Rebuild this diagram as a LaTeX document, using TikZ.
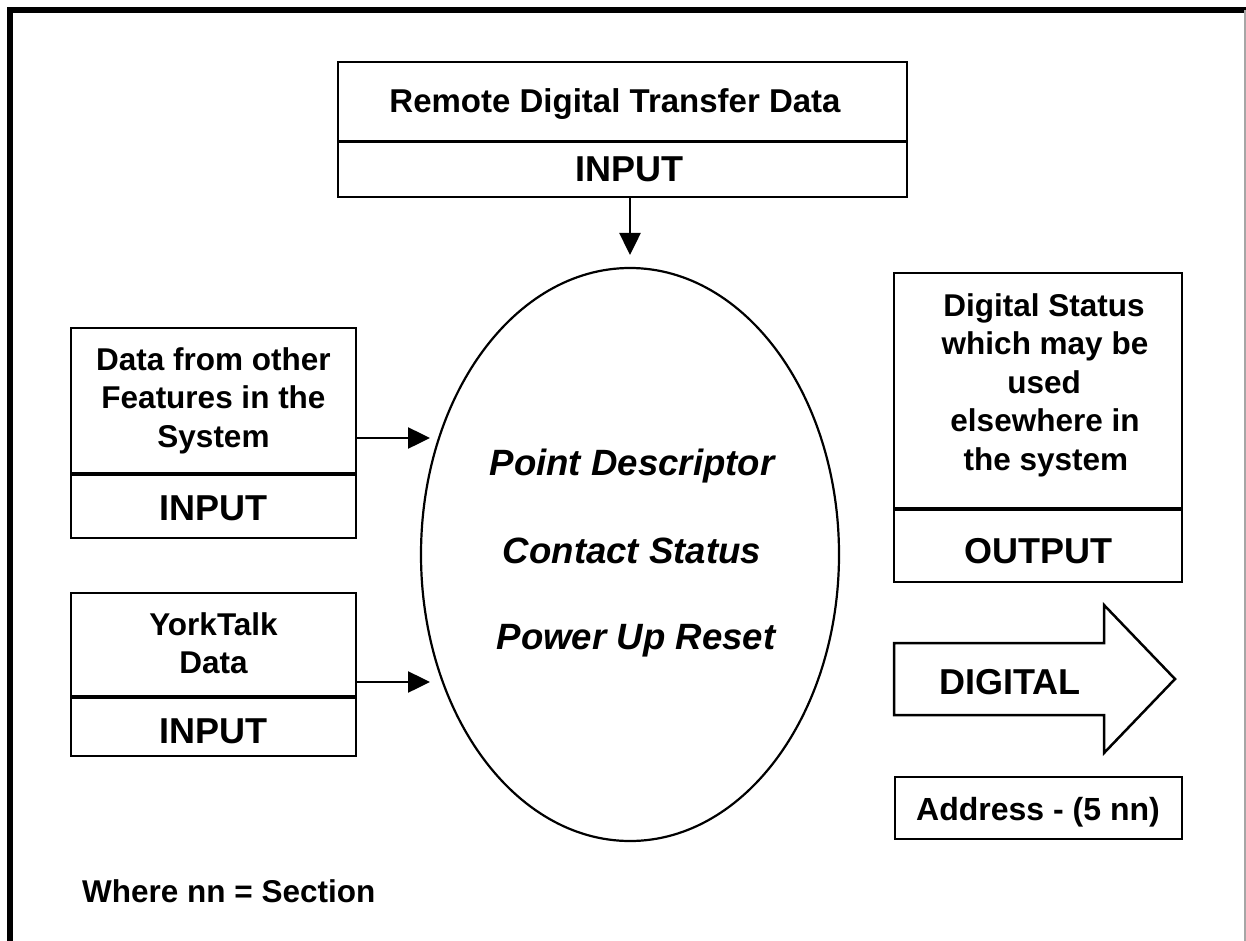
\documentclass[tikz,border=0pt]{standalone}
\usepackage{fontspec}
\setmainfont{Liberation Sans}
\usetikzlibrary{shapes.geometric,arrows.meta}
\begin{document}
\begin{tikzpicture}[x=1pt,y=-1pt,
  part/.style={draw,line width=2pt,inner sep=0pt},
  divider/.style={line width=3pt},
  arr/.style={line width=2.5pt,-{Triangle[length=22pt,width=21pt]}},
  txt/.style={inner sep=0pt,anchor=base,font=\fontsize{31.5}{38.5}\selectfont\bfseries},
  tag/.style={inner sep=0pt,anchor=base,font=\fontsize{36}{40}\selectfont\bfseries},
  core/.style={inner sep=0pt,anchor=base,font=\fontsize{36.6}{40}\selectfont\bfseries\itshape}]
\useasboundingbox (0,0) rectangle (1246,941);

% outer frame (open at the bottom)
\draw[line width=6pt] (10,941) -- (10,10) -- (1246,10);
\draw[gray!70,line width=2pt] (1245,10) -- (1245,941);

% remote transfer input
\node[part,minimum width=569pt,minimum height=79pt] (rtU) at (622.5,101.5) {};
\node[part,minimum width=569pt,minimum height=56pt] (rtL) at (622.5,169) {};
\draw[divider] (rtU.south west) -- (rtU.south east);
\node[txt,font=\fontsize{33}{38}\selectfont\bfseries] (rtT) at (615,113) {Remote Digital Transfer Data};
\node[tag] (rtI) at (629,182) {INPUT};

% central point descriptor
\node[ellipse,draw,line width=2.2pt,minimum width=418pt,minimum height=573pt,inner sep=0pt] (pd) at (630,554.5) {};
\node[core] (c1) at (632,475) {Point Descriptor};
\node[core] (c2) at (632,563) {Contact Status};
\node[core] (c3) at (636,649) {Power Up Reset};

% other features input
\node[part,minimum width=285pt,minimum height=145pt] (ofU) at (213.5,400.5) {};
\node[part,minimum width=285pt,minimum height=65pt] (ofL) at (213.5,505.5) {};
\draw[divider] (ofU.south west) -- (ofU.south east);
\node[txt] (of1) at (213.5,370) {Data from other};
\node[txt] (of2) at (213.5,408.5) {Features in the};
\node[txt] (of3) at (213.5,447) {System};
\node[tag] (ofI) at (213.5,520) {INPUT};

% YorkTalk input
\node[part,minimum width=285pt,minimum height=103pt] (ytU) at (213.5,644.5) {};
\node[part,minimum width=285pt,minimum height=60pt] (ytL) at (213.5,726) {};
\draw[divider] (ytU.south west) -- (ytU.south east);
\node[txt] (yt1) at (213.5,635) {YorkTalk};
\node[txt] (yt2) at (213.5,673.5) {Data};
\node[tag] (ytI) at (213.5,743) {INPUT};

% digital status output
\node[part,minimum width=288pt,minimum height=235pt] (dsU) at (1038,390.5) {};
\node[part,minimum width=288pt,minimum height=74pt] (dsL) at (1038,545) {};
\draw[divider] (dsU.south west) -- (dsU.south east);
\node[txt] (ds1) at (1044,316) {Digital Status};
\node[txt] (ds2) at (1045,354.5) {which may be};
\node[txt] (ds3) at (1044,393) {used};
\node[txt] (ds4) at (1045,431.5) {elsewhere in};
\node[txt] (ds5) at (1046,470) {the system};
\node[tag] (dsO) at (1038,563) {OUTPUT};

% block arrow
\draw[line width=2.5pt,line join=miter]
  (894,643) -- (1104,643) -- (1104,605) -- (1175,679) -- (1104,753) -- (1104,715) -- (894,715) -- cycle;
\node[tag] (dig) at (1010,694) {DIGITAL};

% address
\node[part,minimum width=287pt,minimum height=62pt] (adr) at (1038.5,808) {};
\node[txt,font=\fontsize{32}{38}\selectfont\bfseries] (adrT) at (1038,820) {Address - (5 nn)};

% note
\node[txt,anchor=base west] (note) at (82,902) {Where nn = Section};

% connectors
\coordinate (ta) at (630,255);
\coordinate (la) at (430,438);
\coordinate (lb) at (430,682);
\draw[arr] (rtL.south -| ta) -- (ta);
\draw[arr] (ofU.east |- la) -- (la);
\draw[arr] (ytU.east |- lb) -- (lb);
\end{tikzpicture}
\end{document}
